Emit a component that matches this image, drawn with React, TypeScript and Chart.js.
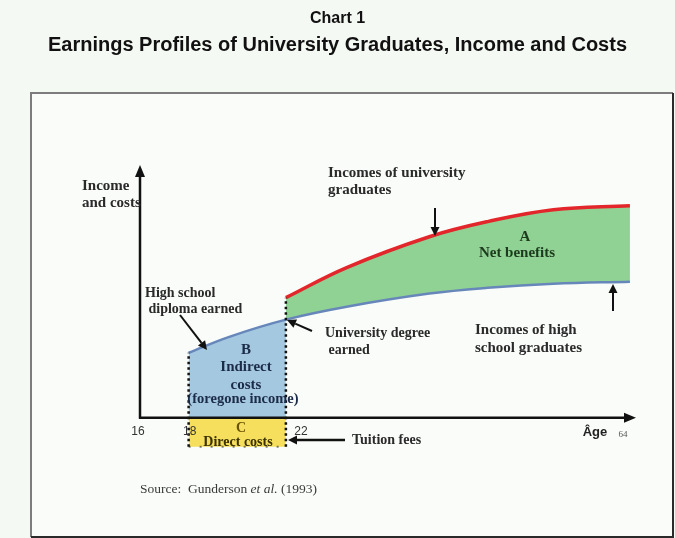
import { useEffect, useRef } from 'react';
import { Chart, registerables } from 'chart.js';

Chart.register(...registerables);

const titleText = 'Chart 1';
const subtitleText = 'Earnings Profiles of University Graduates, Income and Costs';

// Schematic age positions (axis not to scale: last point is age 64)
const xPositions = [18, 19.7, 22, 24.5, 27.9, 30.3, 33.0, 36.15];
const highSchoolIncome = [25.7, 32.1, 38.8, 43.9, 49.1, 51.4, 53.0, 53.8];
const universityIncome: (number | null)[] = [null, null, 47.5, 59.4, 71.6, 77.6, 82.3, 83.9];
const directCostLevel = -11.5;
const studyStart = 18;
const studyEnd = 22;
const tickPositions = [16, 18, 22, 36.15];
const tickLabels = ['16', '18', '22', '64'];

const SERIF = '"Liberation Serif", "Times New Roman", serif';
const SANS = '"Liberation Sans", Arial, sans-serif';
const BLUE_FILL = '#a4c8e0';
const CLEAR = 'rgba(0,0,0,0)';

function drawArrow(ctx: CanvasRenderingContext2D, x1: number, y1: number, x2: number, y2: number, w = 2, head = 9, half = 4.5) {
  const ang = Math.atan2(y2 - y1, x2 - x1);
  const bx = x2 - Math.cos(ang) * head;
  const by = y2 - Math.sin(ang) * head;
  ctx.save();
  ctx.strokeStyle = '#111';
  ctx.fillStyle = '#111';
  ctx.lineWidth = w;
  ctx.beginPath();
  ctx.moveTo(x1, y1);
  ctx.lineTo(bx, by);
  ctx.stroke();
  ctx.beginPath();
  ctx.moveTo(x2, y2);
  ctx.lineTo(bx + Math.sin(ang) * half, by - Math.cos(ang) * half);
  ctx.lineTo(bx - Math.sin(ang) * half, by + Math.cos(ang) * half);
  ctx.closePath();
  ctx.fill();
  ctx.restore();
}

type Note = { lines: string[]; x: number; y: number; gap: number; size: number; align: CanvasTextAlign; color: string };

const notes: Note[] = [
  { lines: ['Income', 'and costs'], x: 82, y: 186, gap: 17, size: 15, align: 'left', color: '#2a2a2a' },
  { lines: ['Incomes of university', 'graduates'], x: 328, y: 173, gap: 17, size: 15, align: 'left', color: '#2a2a2a' },
  { lines: ['A'], x: 525, y: 237, gap: 16, size: 15, align: 'center', color: '#1e3a1e' },
  { lines: ['Net benefits'], x: 517, y: 253, gap: 16, size: 15, align: 'center', color: '#1e3a1e' },
  { lines: ['Incomes of high', 'school graduates'], x: 475, y: 330, gap: 18, size: 15, align: 'left', color: '#2a2a2a' },
  { lines: ['University degree', ' earned'], x: 325, y: 333, gap: 17, size: 14, align: 'left', color: '#2a2a2a' },
  { lines: ['High school', ' diploma earned'], x: 145, y: 293, gap: 16, size: 14, align: 'left', color: '#2a2a2a' },
  { lines: ['B', 'Indirect', 'costs'], x: 246, y: 350, gap: 17.5, size: 15, align: 'center', color: '#1b2b48' },
  { lines: ['(foregone income)'], x: 243, y: 399, gap: 17, size: 14.5, align: 'center', color: '#1b2b48' },
  { lines: ['C'], x: 241, y: 428, gap: 14, size: 14, align: 'center', color: '#6b5400' },
  { lines: ['Direct costs'], x: 238, y: 442, gap: 14, size: 14, align: 'center', color: '#3a3000' },
  { lines: ['Tuition fees'], x: 352, y: 440, gap: 14, size: 14, align: 'left', color: '#2a2a2a' },
];

const decorPlugin = {
  id: 'decor',
  beforeDraw(chart: any) {
    const ctx = chart.ctx as CanvasRenderingContext2D;
    ctx.save();
    ctx.fillStyle = '#f5f9f3';
    ctx.fillRect(0, 0, chart.width, chart.height);
    ctx.fillStyle = '#f9fcf8';
    ctx.fillRect(31, 93, 642, 444);
    ctx.strokeStyle = '#7c7c7c';
    ctx.lineWidth = 2;
    ctx.beginPath();
    ctx.moveTo(31, 537);
    ctx.lineTo(31, 93);
    ctx.lineTo(673, 93);
    ctx.stroke();
    ctx.strokeStyle = '#2a2a2a';
    ctx.beginPath();
    ctx.moveTo(673, 93);
    ctx.lineTo(673, 537);
    ctx.lineTo(31, 537);
    ctx.stroke();
    ctx.restore();
  },
  afterDatasetsDraw(chart: any) {
    const ctx = chart.ctx as CanvasRenderingContext2D;
    const xs = chart.scales.x;
    const ys = chart.scales.y;
    const area = chart.chartArea;
    const x0 = xs.getPixelForValue(16);
    const y0 = ys.getPixelForValue(0);
    // axes with arrow heads
    drawArrow(ctx, x0, y0 + 1, x0, area.top, 2.5, 12, 5);
    drawArrow(ctx, x0 - 1, y0, area.right, y0, 2.5, 12, 5);

    // tick labels
    ctx.save();
    ctx.textBaseline = 'middle';
    ctx.textAlign = 'center';
    const offsets = [-2, 1, 15, -7];
    tickPositions.forEach((v, i) => {
      const px = xs.getPixelForValue(v) + offsets[i];
      if (i === tickLabels.length - 1) {
        ctx.font = `9px ${SERIF}`;
        ctx.fillStyle = '#555';
        ctx.fillText(tickLabels[i], px, y0 + 17);
      } else {
        ctx.font = `12px ${SANS}`;
        ctx.fillStyle = '#333';
        ctx.fillText(tickLabels[i], px, y0 + 14);
      }
    });
    ctx.font = `bold 13px ${SANS}`;
    ctx.fillStyle = '#222';
    ctx.fillText('Âge', 595, y0 + 15);

    // notes
    notes.forEach((n) => {
      ctx.font = `bold ${n.size}px ${SERIF}`;
      ctx.fillStyle = n.color;
      ctx.textAlign = n.align;
      n.lines.forEach((l, i) => ctx.fillText(l, n.x, n.y + i * n.gap));
    });

    // source
    ctx.textAlign = 'left';
    ctx.fillStyle = '#3a3a3a';
    ctx.font = `13.5px ${SERIF}`;
    let sx = 140;
    const sy = 489;
    const p1 = 'Source:  Gunderson ';
    ctx.fillText(p1, sx, sy);
    sx += ctx.measureText(p1).width;
    ctx.font = `italic 13.5px ${SERIF}`;
    const p2 = 'et al.';
    ctx.fillText(p2, sx, sy);
    sx += ctx.measureText(p2).width;
    ctx.font = `13.5px ${SERIF}`;
    ctx.fillText(' (1993)', sx, sy);
    ctx.restore();

    // pointer arrows
    drawArrow(ctx, 435, 208, 435, 236, 2, 9, 4.5);
    drawArrow(ctx, 613, 311, 613, 284, 2, 9, 4.5);
    drawArrow(ctx, 312, 331, 287, 320, 2, 9, 4.5);
    drawArrow(ctx, 180, 315, 207, 350, 2, 9, 4.5);
    drawArrow(ctx, 345, 440, 288, 440, 2.5, 9, 4.5);
  },
};

export default function App() {
  const ref = useRef<HTMLCanvasElement>(null);
  useEffect(() => {
    if (!ref.current) return;
    const hsData = xPositions.map((x, i) => ({ x, y: highSchoolIncome[i] }));
    const uniData = xPositions
      .map((x, i) => ({ x, y: universityIncome[i] }))
      .filter((p) => p.y !== null) as { x: number; y: number }[];
    const hsAtStart = hsData.find((p) => p.x === studyStart)!.y;
    const uniAtEnd = uniData.find((p) => p.x === studyEnd)!.y;

    const chart = new Chart(ref.current, {
      type: 'line',
      data: {
        datasets: [
          {
            label: 'Direct costs',
            data: [{ x: studyStart, y: directCostLevel }, { x: studyEnd, y: directCostLevel }],
            fill: 'origin',
            backgroundColor: '#f5df5c',
            borderColor: 'rgba(40,40,20,0.6)',
            borderWidth: 2,
            borderDash: [2, 9],
            pointRadius: 0,
            order: 5,
          },
          {
            label: 'Incomes of high school graduates',
            data: hsData,
            fill: 'origin',
            backgroundColor: CLEAR,
            segment: {
              backgroundColor: (c: any) => (c.p1.parsed.x <= studyEnd ? BLUE_FILL : CLEAR),
            },
            borderColor: '#6787bb',
            borderWidth: 2.5,
            tension: 0.4,
            pointRadius: 0,
            order: 3,
          },
          {
            label: 'Incomes of university graduates',
            data: uniData,
            fill: { target: 1 },
            backgroundColor: '#90d293',
            borderColor: '#e3262b',
            borderWidth: 3.5,
            tension: 0.4,
            pointRadius: 0,
            order: 2,
          },
          {
            label: 'age 18',
            data: [{ x: studyStart, y: directCostLevel }, { x: studyStart, y: hsAtStart }],
            borderColor: '#111',
            borderWidth: 2.5,
            borderDash: [2.5, 3],
            pointRadius: 0,
            fill: false,
            order: 1,
          },
          {
            label: 'age 22',
            data: [{ x: studyEnd, y: directCostLevel }, { x: studyEnd, y: uniAtEnd }],
            borderColor: '#111',
            borderWidth: 2.5,
            borderDash: [2.5, 3],
            pointRadius: 0,
            fill: false,
            order: 1,
          },
        ],
      },
      options: {
        responsive: false,
        animation: false,
        devicePixelRatio: 1,
        layout: { padding: { left: 39, right: 39, top: 0, bottom: 0 } },
        scales: {
          x: {
            type: 'linear',
            min: 16,
            max: 36.4,
            grid: { display: false },
            border: { display: false },
            ticks: { display: false },
            afterFit: (s: any) => { s.height = 90; },
          },
          y: {
            type: 'linear',
            min: -12,
            max: 100,
            grid: { display: false },
            border: { display: false },
            ticks: { display: false },
            afterFit: (s: any) => { s.width = 101; },
          },
        },
        plugins: {
          legend: { display: false },
          tooltip: { enabled: false },
          filler: { drawTime: 'beforeDatasetsDraw' },
          title: {
            display: true,
            text: titleText,
            color: '#111',
            font: { family: SANS, size: 16, weight: 'bold', lineHeight: 1.2 },
            padding: { top: 9, bottom: 5 },
          },
          subtitle: {
            display: true,
            text: subtitleText,
            color: '#111',
            font: { family: SANS, size: 20, weight: 'bold', lineHeight: 1.2 },
            padding: { top: 0, bottom: 107.8 },
          },
        },
      },
      plugins: [decorPlugin],
    });
    return () => chart.destroy();
  }, []);

  return (
    <div style={{ position: 'fixed', left: 0, top: 0, width: 675, height: 538 }}>
      <canvas ref={ref} width={675} height={538} style={{ display: 'block' }} />
    </div>
  );
}
